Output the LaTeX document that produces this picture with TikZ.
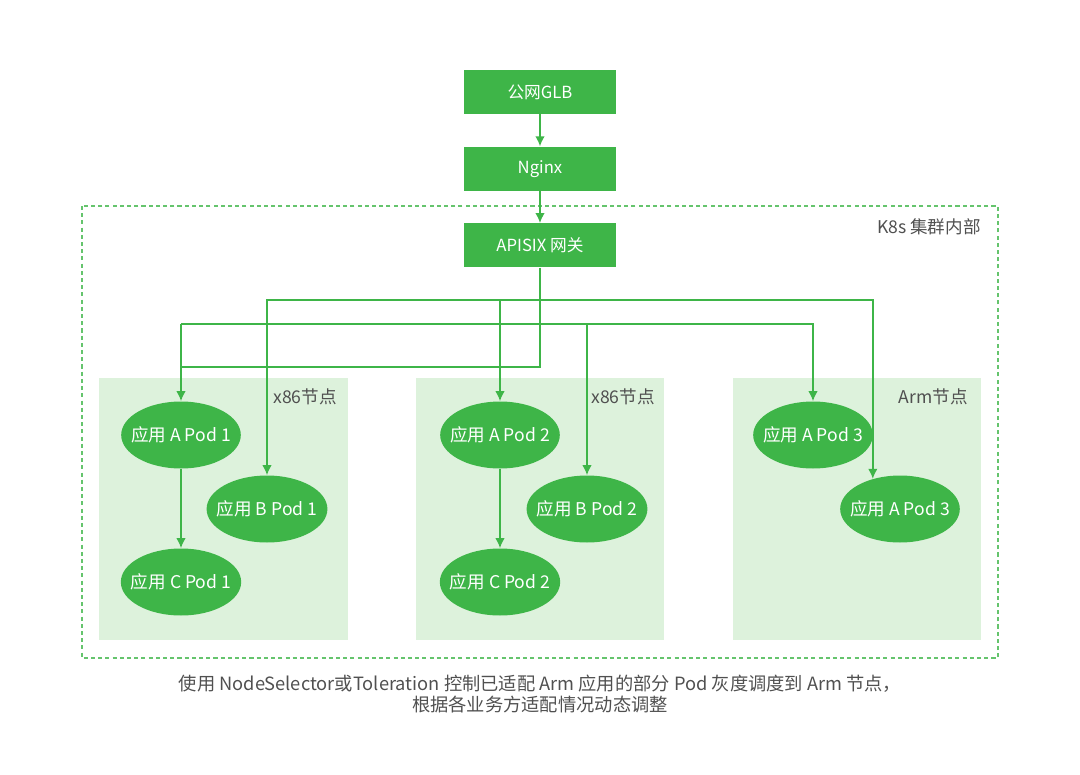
\documentclass[tikz,border=0pt]{standalone}
\usepackage{fontspec}
\setmainfont{Noto Sans CJK SC}
\usetikzlibrary{arrows.meta, positioning, shapes.geometric}
\definecolor{leaf}{RGB}{62,181,72}
\definecolor{leafpale}{RGB}{221,242,220}
\definecolor{inkgray}{RGB}{80,80,80}

\begin{document}
\begin{tikzpicture}[x=0.02cm, y=-0.02cm,
  node distance=0.64cm,
  box/.style={fill=leaf, text=white, minimum width=3.04cm, minimum height=0.88cm, inner sep=0pt, font=\fontsize{9.5}{11}\selectfont},
  pod/.style={ellipse, fill=leaf, text=white, minimum width=2.38cm, minimum height=1.34cm, inner xsep=-0.15cm, inner ysep=0pt, font=\fontsize{10}{11}\selectfont},
  panel/.style={fill=leafpale, minimum width=4.98cm, minimum height=5.24cm, inner sep=0pt},
  tag/.style={text=inkgray, anchor=east, inner sep=0pt, font=\fontsize{10}{11}\selectfont},
  wire/.style={draw=leaf, line width=0.9pt},
  arr/.style={wire, -{Latex[length=2mm, width=1.9mm]}}]

  \useasboundingbox (0,0) rectangle (1080,775);

  % cluster boundary
  \draw[leaf!80, line width=0.6pt, dash pattern=on 2.3pt off 1.8pt] (82,206) rectangle (998,658);
  \node[tag] at (981,227) {K8s 集群内部};

  % entry chain
  \node[box] (glb) at (540,92) {公网GLB};
  \node[box, below=of glb] (nginx) {Nginx};
  \node[box, below=of nginx] (apisix) {APISIX 网关};
  \draw[arr] (glb) -- (nginx);
  \draw[arr] (nginx) -- (apisix);

  % worker nodes
  \node[panel] (x86a) at (223.5,509) {};
  \node[panel] (x86b) at (540,509) {};
  \node[panel] (arm) at (857,509) {};
  \node[tag] at (337,397) {x86节点};
  \node[tag] at (655,397) {x86节点};
  \node[tag] at (968,397) {Arm节点};

  % pods
  \node[pod] (a1) at (181,435) {应用 A Pod 1};
  \node[pod] (b1) at (267,509) {应用 B Pod 1};
  \node[pod] (c1) at (181,582) {应用 C Pod 1};
  \node[pod] (a2) at (500,435) {应用 A Pod 2};
  \node[pod] (b2) at (587,509) {应用 B Pod 2};
  \node[pod] (c2) at (500,582) {应用 C Pod 2};
  \node[pod] (a3) at (813,435) {应用 A Pod 3};
  \node[pod] (a3b) at (900,509) {应用 A Pod 3};

  % routing
  \coordinate (hi) at (540,300);
  \coordinate (mid) at (181,324);
  \coordinate (lo) at (540,367);
  \draw[arr] (apisix.south) -- (lo) -| (a1.north);
  \draw[wire] (mid) -- (mid |- lo);
  \draw[arr] (hi) -| (b1.north);
  \draw[arr] (hi) -| (a2.north);
  \draw[arr] (hi) -| (a3b.132);
  \draw[arr] (mid) -| (b2.north);
  \draw[arr] (mid) -| (a3.north);
  \draw[arr] (a1) -- (c1);
  \draw[arr] (a2) -- (c2);

  \node[align=center, text=inkgray, font=\fontsize{10.4}{12.5}\selectfont] (note) at (540,694)
    {使用 NodeSelector或Toleration 控制已适配 Arm 应用的部分 Pod 灰度调度到 Arm 节点，\\根据各业务方适配情况动态调整};
\end{tikzpicture}
\end{document}
